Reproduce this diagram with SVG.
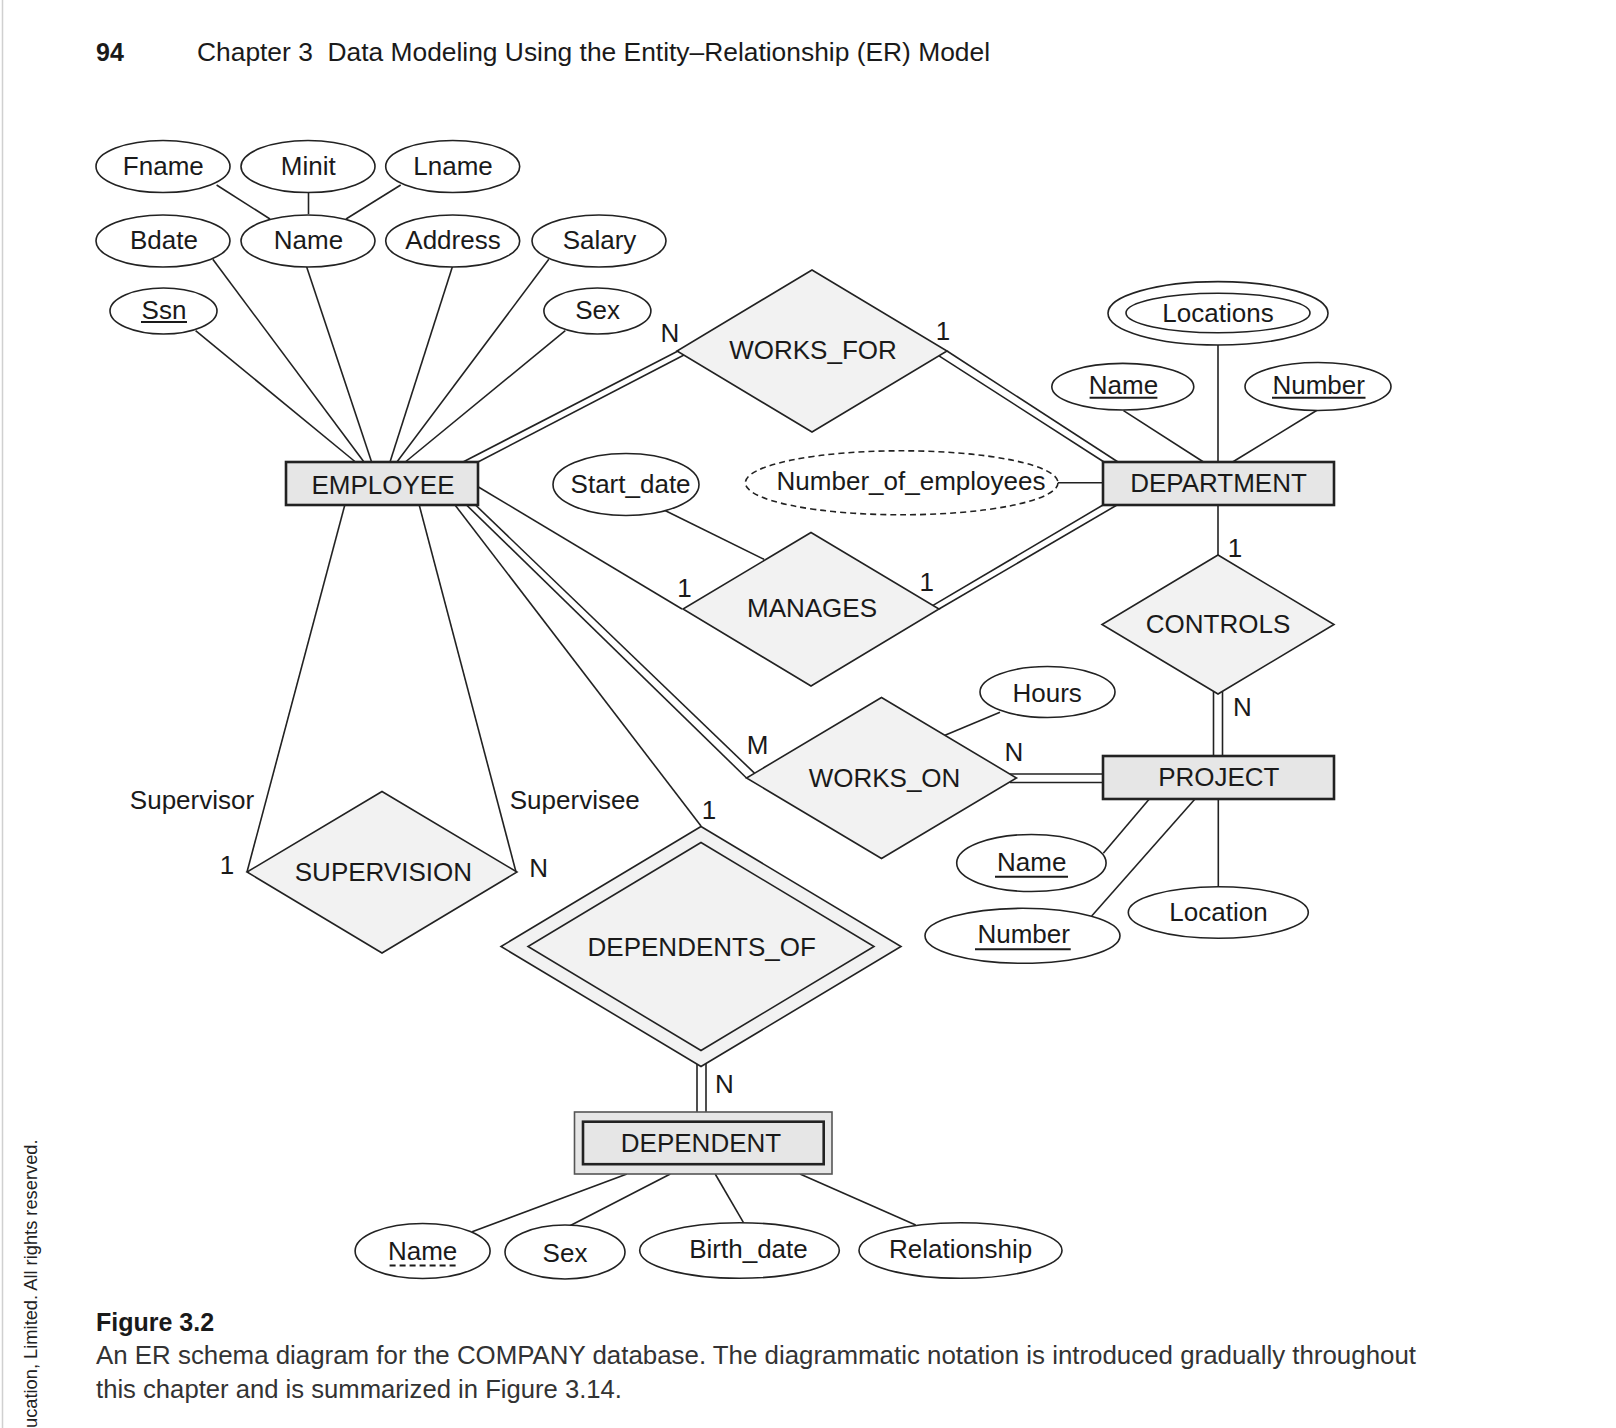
<svg xmlns="http://www.w3.org/2000/svg" width="1616" height="1428" viewBox="0 0 1616 1428">
<style>
text{font-family:"Liberation Sans",Arial,sans-serif;fill:#1a1a1a}
.t{font-size:26px;text-anchor:middle}
.lb{font-size:26px;text-anchor:middle}
.attr{fill:#fff;stroke:#222;stroke-width:1.6}
.rel{fill:#f2f2f2;stroke:#222;stroke-width:1.6}
.ent{fill:#e6e6e6;stroke:#222;stroke-width:2.6}
.ln{stroke:#222;stroke-width:1.6;fill:none}
.ul{stroke:#1a1a1a;stroke-width:2}
</style>
<rect width="1616" height="1428" fill="#fff"/>
<line x1="2.5" y1="0" x2="2.5" y2="1428" stroke="#d0d0d0" stroke-width="1.5"/>
<text x="96" y="61" style="font-size:25px;font-weight:bold">94</text>
<text x="197" y="61" xml:space="preserve" textLength="793" lengthAdjust="spacingAndGlyphs" style="font-size:26px">Chapter 3  Data Modeling Using the Entity–Relationship (ER) Model</text>

<g id="connectors">
<line class="ln" x1="216.6" y1="185" x2="270" y2="219"/>
<line class="ln" x1="308.5" y1="192.7" x2="308.5" y2="214"/>
<line class="ln" x1="400.7" y1="185" x2="346" y2="219"/>
<line class="ln" x1="212.8" y1="259.3" x2="364" y2="462"/>
<line class="ln" x1="306.6" y1="266.7" x2="371.6" y2="462"/>
<line class="ln" x1="452.4" y1="266.7" x2="390" y2="462"/>
<line class="ln" x1="548.8" y1="259.3" x2="396.9" y2="462"/>
<line class="ln" x1="195.6" y1="330.7" x2="355.5" y2="462"/>
<line class="ln" x1="565.3" y1="330.7" x2="405.3" y2="462"/>
<!-- EMP - WORKS_FOR double -->
<line class="ln" x1="463" y1="462" x2="678" y2="351"/>
<line class="ln" x1="478" y1="462" x2="684" y2="355"/>
<!-- WORKS_FOR - DEPT double -->
<line class="ln" x1="947" y1="351" x2="1118" y2="462"/>
<line class="ln" x1="939" y1="355.8" x2="1104" y2="462"/>
<line class="ln" x1="1218" y1="345" x2="1218" y2="462"/>
<line class="ln" x1="1123.5" y1="410.7" x2="1203.5" y2="462"/>
<line class="ln" x1="1317.4" y1="410" x2="1232.6" y2="462"/>
<line class="ln" x1="1058" y1="482.7" x2="1103" y2="482.7"/>
<line class="ln" x1="664" y1="510" x2="764" y2="559.3"/>
<line class="ln" x1="478" y1="486.7" x2="682" y2="609"/>
<!-- MANAGES - DEPT double -->
<line class="ln" x1="933" y1="605.4" x2="1103" y2="505"/>
<line class="ln" x1="939" y1="609" x2="1117" y2="505"/>
<line class="ln" x1="1218" y1="505" x2="1218" y2="555"/>
<!-- CONTROLS - PROJECT double -->
<line class="ln" x1="1213.5" y1="691.6" x2="1213.5" y2="756"/>
<line class="ln" x1="1222.5" y1="691.3" x2="1222.5" y2="756"/>
<!-- WORKS_ON - PROJECT double -->
<line class="ln" x1="1010" y1="774" x2="1103" y2="774"/>
<line class="ln" x1="1010" y1="782.5" x2="1103" y2="782.5"/>
<line class="ln" x1="1000" y1="712.3" x2="945" y2="735.3"/>
<!-- EMP - WORKS_ON double -->
<line class="ln" x1="466.5" y1="505" x2="746.5" y2="778"/>
<line class="ln" x1="475.5" y1="505" x2="754.5" y2="773.2"/>
<line class="ln" x1="344.8" y1="505" x2="247" y2="872"/>
<line class="ln" x1="419.2" y1="505" x2="516" y2="872"/>
<line class="ln" x1="455" y1="505" x2="701" y2="826"/>
<line class="ln" x1="1103.3" y1="853.3" x2="1149.3" y2="799"/>
<line class="ln" x1="1091.7" y1="916" x2="1195" y2="799"/>
<line class="ln" x1="1218.3" y1="799" x2="1218.3" y2="886.7"/>
<!-- DEPENDENTS_OF - DEPENDENT double -->
<line class="ln" x1="697" y1="1063.6" x2="697" y2="1112"/>
<line class="ln" x1="706" y1="1063" x2="706" y2="1112"/>
<line class="ln" x1="626.9" y1="1174" x2="472.1" y2="1231.7"/>
<line class="ln" x1="670.3" y1="1174" x2="568" y2="1226.7"/>
<line class="ln" x1="715.2" y1="1174" x2="743.5" y2="1222.7"/>
<line class="ln" x1="800" y1="1174" x2="915.7" y2="1225"/>
</g>

<g id="labels">
<text class="lb" x="670" y="341.7">N</text>
<text class="lb" x="943" y="340">1</text>
<text class="lb" x="684.5" y="597">1</text>
<text class="lb" x="926.7" y="591">1</text>
<text class="lb" x="1235" y="556.7">1</text>
<text class="lb" x="1242.5" y="715.7">N</text>
<text class="lb" x="1014" y="760.7">N</text>
<text class="lb" x="757.5" y="754">M</text>
<text class="lb" x="227" y="874">1</text>
<text class="lb" x="538.7" y="876.7">N</text>
<text class="lb" x="709" y="819">1</text>
<text class="lb" x="724.3" y="1093.3">N</text>
<text class="lb" x="192" y="809">Supervisor</text>
<text class="lb" x="574.8" y="809">Supervisee</text>
</g>

<g id="emp_fname"><ellipse class="attr" cx="163" cy="166.5" rx="67" ry="26"/><text class="t" x="163.3" y="175">Fname</text></g>
<g id="emp_minit"><ellipse class="attr" cx="308" cy="166.5" rx="67" ry="26"/><text class="t" x="308.2" y="175">Minit</text></g>
<g id="emp_lname"><ellipse class="attr" cx="452.7" cy="166.5" rx="67" ry="26"/><text class="t" x="453" y="175">Lname</text></g>
<g id="emp_bdate"><ellipse class="attr" cx="163" cy="241" rx="67" ry="26"/><text class="t" x="163.9" y="249">Bdate</text></g>
<g id="emp_name"><ellipse class="attr" cx="308" cy="241" rx="67" ry="26"/><text class="t" x="308.5" y="249">Name</text></g>
<g id="emp_address"><ellipse class="attr" cx="452.7" cy="241" rx="67" ry="26"/><text class="t" x="453" y="249">Address</text></g>
<g id="emp_salary"><ellipse class="attr" cx="599" cy="241" rx="67" ry="26"/><text class="t" x="599.5" y="249">Salary</text></g>
<g id="emp_ssn"><ellipse class="attr" cx="163.5" cy="311" rx="53.5" ry="23"/><text class="t" x="164" y="319">Ssn</text><line class="ul" x1="141" y1="322" x2="187" y2="322"/></g>
<g id="emp_sex"><ellipse class="attr" cx="597.4" cy="311" rx="53.5" ry="23"/><text class="t" x="597.6" y="319">Sex</text></g>

<g id="employee"><rect class="ent" x="286" y="462" width="192" height="43"/><text class="t" x="383" y="494">EMPLOYEE</text></g>

<g id="works_for"><polygon class="rel" points="812,270 947,351 812,432 677,351"/><text class="t" x="813" y="358.5">WORKS_FOR</text></g>

<g id="dept_locations"><ellipse class="attr" cx="1218" cy="313.3" rx="110" ry="31.7"/><ellipse class="attr" cx="1218" cy="313" rx="92" ry="19.7"/><text class="t" x="1218" y="322.3">Locations</text></g>
<g id="dept_name"><ellipse class="attr" cx="1122.8" cy="386.7" rx="71" ry="23.3"/><text class="t" x="1123.5" y="394">Name</text><line class="ul" x1="1089.6" y1="397.7" x2="1157.4" y2="397.7"/></g>
<g id="dept_number"><ellipse class="attr" cx="1318" cy="386.5" rx="73" ry="24"/><text class="t" x="1318.7" y="394">Number</text><line class="ul" x1="1272" y1="397.7" x2="1365.5" y2="397.7"/></g>
<g id="dept_noe"><ellipse class="attr" cx="901.7" cy="482.8" rx="156.3" ry="32" stroke-dasharray="6,4"/><text class="t" x="911" y="490.3">Number_of_employees</text></g>

<g id="department"><rect class="ent" x="1103" y="462" width="231" height="43"/><text class="t" x="1218.5" y="492.3">DEPARTMENT</text></g>

<g id="start_date"><ellipse class="attr" cx="626" cy="484.5" rx="73" ry="31"/><text class="t" x="630.6" y="493">Start_date</text></g>

<g id="manages"><polygon class="rel" points="811,532.5 939,609 811,686 683,609"/><text class="t" x="812" y="617.3">MANAGES</text></g>

<g id="controls"><polygon class="rel" points="1218,555 1334,624.5 1218,694 1102,624.5"/><text class="t" x="1218" y="632.7">CONTROLS</text></g>

<g id="hours"><ellipse class="attr" cx="1047.5" cy="692" rx="67.5" ry="25.5"/><text class="t" x="1047.2" y="701.7">Hours</text></g>

<g id="works_on"><polygon class="rel" points="881.5,697.5 1016.5,778 881.5,858.5 746.5,778"/><text class="t" x="884.5" y="786.5">WORKS_ON</text></g>

<g id="project"><rect class="ent" x="1103" y="756" width="231" height="43"/><text class="t" x="1218.8" y="785.7">PROJECT</text></g>

<g id="proj_name"><ellipse class="attr" cx="1031.4" cy="863" rx="74.7" ry="28.5"/><text class="t" x="1031.7" y="870.7">Name</text><line class="ul" x1="995" y1="876.7" x2="1068" y2="876.7"/></g>
<g id="proj_number"><ellipse class="attr" cx="1022.5" cy="935.8" rx="97.5" ry="27.5"/><text class="t" x="1023.7" y="943">Number</text><line class="ul" x1="975" y1="949.3" x2="1070.7" y2="949.3"/></g>
<g id="proj_location"><ellipse class="attr" cx="1218.3" cy="912.5" rx="90" ry="25.8"/><text class="t" x="1218.5" y="920.7">Location</text></g>

<g id="supervision"><polygon class="rel" points="382,791.5 517,872 382,953 247,872"/><text class="t" x="383.4" y="880.7">SUPERVISION</text></g>

<g id="dependents_of"><polygon class="rel" points="701,826.5 901,946.5 701,1066.5 501,946.5"/><polygon class="rel" points="701,842.5 874,946.5 701,1050.5 528,946.5"/><text class="t" x="701.7" y="956">DEPENDENTS_OF</text></g>

<g id="dependent"><rect x="574.5" y="1112" width="257.5" height="62" fill="#e6e6e6" stroke="#555" stroke-width="1.6"/><rect class="ent" x="583" y="1121.7" width="240.7" height="42.5"/><text class="t" x="701" y="1151.7">DEPENDENT</text></g>

<g id="dep_name"><ellipse class="attr" cx="422.6" cy="1251" rx="67.5" ry="27.5"/><text class="t" x="422.6" y="1260">Name</text><line x1="389.6" y1="1265.5" x2="455.6" y2="1265.5" stroke="#1a1a1a" stroke-width="2" stroke-dasharray="6,4"/></g>
<g id="dep_sex"><ellipse class="attr" cx="565" cy="1252" rx="60" ry="27"/><text class="t" x="565" y="1261.5">Sex</text></g>
<g id="dep_birth"><ellipse class="attr" cx="739.5" cy="1250.5" rx="99.8" ry="27.8"/><text class="t" x="748.5" y="1257.7">Birth_date</text></g>
<g id="dep_rel"><ellipse class="attr" cx="960.5" cy="1250.5" rx="101.5" ry="27.8"/><text class="t" x="960.6" y="1257.7">Relationship</text></g>

<text x="96" y="1331" style="font-size:25px;font-weight:bold">Figure 3.2</text>
<text x="96" y="1364" textLength="1320" lengthAdjust="spacingAndGlyphs" style="font-size:26px;fill:#333">An ER schema diagram for the COMPANY database. The diagrammatic notation is introduced gradually throughout</text>
<text x="96" y="1398" textLength="526" lengthAdjust="spacingAndGlyphs" style="font-size:26px;fill:#333">this chapter and is summarized in Figure 3.14.</text>
<text transform="translate(37,1428) rotate(-90)" x="0" y="0" style="font-size:18.3px;fill:#222">ucation, Limited. All rights reserved.</text>
</svg>
